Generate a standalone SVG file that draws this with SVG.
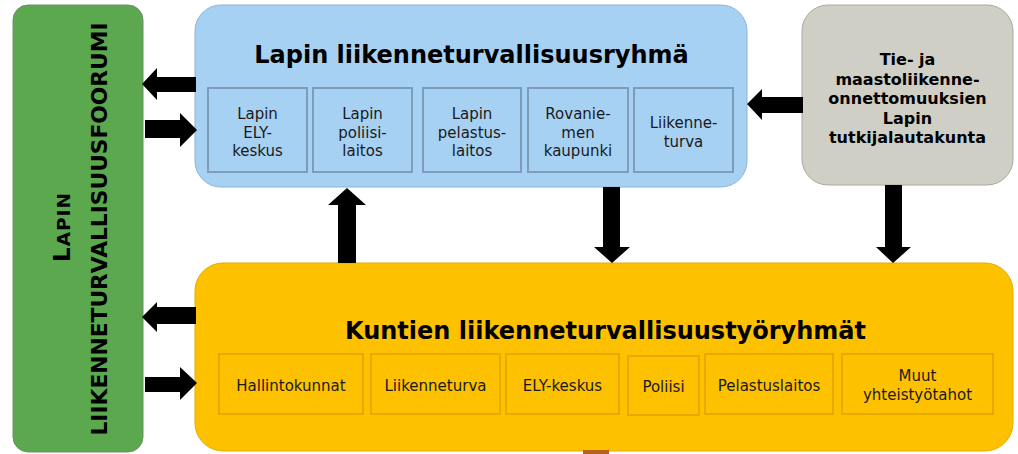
<svg xmlns="http://www.w3.org/2000/svg" width="1018" height="454" viewBox="0 0 1018 454">
<style>
.t{font-family:"DejaVu Sans",Verdana,sans-serif;}
.b{font-weight:bold;fill:#000;}
.title{font-size:24px;font-weight:bold;text-anchor:middle;fill:#000;}
.gray{font-size:16px;font-weight:bold;text-anchor:middle;fill:#000;}
.in{font-size:15px;text-anchor:middle;fill:#1a1a1a;}
.ib{fill:#a6d1f3;stroke:#7d9cb8;stroke-width:2;}
.iy{fill:#fdc100;stroke:#e0a200;stroke-width:1.5;}
.arr{fill:#000;}
</style>
<rect width="1018" height="454" fill="#fff"/>
<g id="forum">
<rect x="13" y="5" width="130" height="447" rx="15" fill="#5ba84f" stroke="#6f8f6a" stroke-width="1"/>
<text class="t b" transform="translate(70,227) rotate(-90)" text-anchor="middle" letter-spacing="1"><tspan font-size="23">L</tspan><tspan font-size="18.5">APIN</tspan></text>
<text class="t b" transform="translate(107,229) rotate(-90)" text-anchor="middle" font-size="22" textLength="413" lengthAdjust="spacingAndGlyphs">LIIKENNETURVALLISUUSFOORUMI</text>
</g>
<g id="ryhma">
<rect x="195" y="5" width="552" height="182" rx="26" fill="#a6d1f3" stroke="#8fb3d3" stroke-width="1"/>
<text class="t title" x="471.5" y="63">Lapin liikenneturvallisuusryhmä</text>
<g id="ely-l">
<rect class="ib" x="208" y="88" width="99" height="84"/>
<text class="t in" x="257.5" y="119">Lapin</text><text class="t in" x="257.5" y="137.5">ELY-</text><text class="t in" x="257.5" y="156">keskus</text>
</g>
<g id="poliisi-l">
<rect class="ib" x="313" y="88" width="99" height="84"/>
<text class="t in" x="362.5" y="119">Lapin</text><text class="t in" x="362.5" y="137.5">poliisi-</text><text class="t in" x="362.5" y="156">laitos</text>
</g>
<g id="pelastus-l">
<rect class="ib" x="423" y="88" width="98" height="84"/>
<text class="t in" x="472" y="119">Lapin</text><text class="t in" x="472" y="137.5">pelastus-</text><text class="t in" x="472" y="156">laitos</text>
</g>
<g id="rovaniemi">
<rect class="ib" x="528" y="88" width="100" height="84"/>
<text class="t in" x="578" y="119">Rovanie-</text><text class="t in" x="578" y="137.5">men</text><text class="t in" x="578" y="156">kaupunki</text>
</g>
<g id="liikenneturva-l">
<rect class="ib" x="634" y="88" width="99" height="84"/>
<text class="t in" x="683.5" y="128">Liikenne-</text><text class="t in" x="683.5" y="147">turva</text>
</g>
</g>
<g id="lautakunta">
<rect x="802" y="5" width="211" height="180" rx="26" fill="#d0cfc6" stroke="#a9a89f" stroke-width="1"/>
<text class="t gray" x="907.5" y="65">Tie- ja</text>
<text class="t gray" x="907.5" y="84.5">maastoliikenne-</text>
<text class="t gray" x="907.5" y="104">onnettomuuksien</text>
<text class="t gray" x="907.5" y="123.5">Lapin</text>
<text class="t gray" x="907.5" y="143">tutkijalautakunta</text>
</g>
<g id="tyoryhmat">
<rect x="195" y="263" width="818" height="188" rx="28" fill="#fdc100" stroke="#e3ad00" stroke-width="1"/>
<text class="t title" x="605.5" y="339">Kuntien liikenneturvallisuustyöryhmät</text>
<g id="hallintokunnat"><rect class="iy" x="219" y="354" width="144" height="60"/><text class="t in" x="291" y="391">Hallintokunnat</text></g>
<g id="liikenneturva-k"><rect class="iy" x="371" y="354" width="129" height="60"/><text class="t in" x="435.5" y="391">Liikenneturva</text></g>
<g id="ely-k"><rect class="iy" x="506" y="354" width="113" height="60"/><text class="t in" x="562.5" y="391">ELY-keskus</text></g>
<g id="poliisi-k"><rect class="iy" x="628" y="356" width="71" height="59"/><text class="t in" x="663.5" y="392">Poliisi</text></g>
<g id="pelastus-k"><rect class="iy" x="705" y="354" width="128" height="60"/><text class="t in" x="769" y="391">Pelastuslaitos</text></g>
<g id="muut"><rect class="iy" x="842" y="354" width="151" height="60"/><text class="t in" x="917.5" y="381">Muut</text><text class="t in" x="917.5" y="400">yhteistyötahot</text></g>
</g>
<rect x="583" y="450" width="26" height="4" fill="#b5621c"/>
<g id="connectors">
<polygon class="arr" points="142,84 157,68 157,77 196,77 196,92 157,92 157,100"/>
<polygon class="arr" points="145,120 180,120 180,113 197,130 180,147 180,138 145,138"/>
<polygon class="arr" points="142,317 157,302 157,307 196,307 196,324 157,324 157,332"/>
<polygon class="arr" points="145,377 180,377 180,367 197,383 180,400 180,392 145,392"/>
<polygon class="arr" points="347,188 366,205 356,205 356,263 338,263 338,205 328,205"/>
<polygon class="arr" points="603,187 620,187 620,247 630,247 612,263 594,247 603,247"/>
<polygon class="arr" points="885,185 902,185 902,247 911,247 893,263 876,247 885,247"/>
<polygon class="arr" points="747,104 762,89 762,97 803,97 803,113 762,113 762,120"/>
</g>
</svg>
